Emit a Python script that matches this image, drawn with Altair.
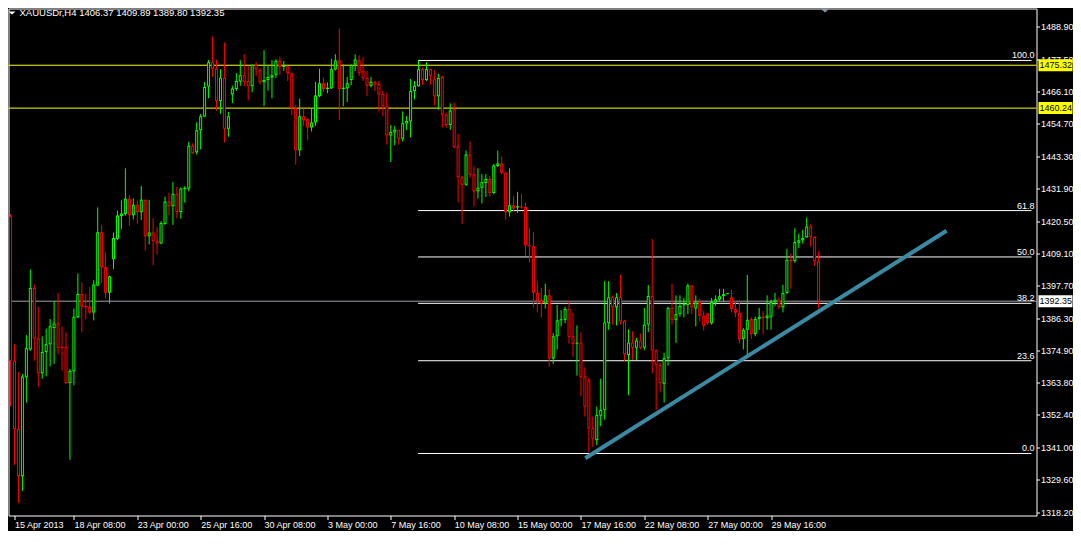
import json
import altair as alt
import pandas as pd

# ---- OHLC data (H4 bars) ----
opens = [1422.1, 1371.4, 1347.4, 1330.8, 1365.6, 1375.4, 1397.0, 1379.2, 1367.0, 1374.5,
         1377.2, 1382.9, 1384.5, 1376.2, 1376.2, 1363.6, 1367.7, 1386.7, 1394.9, 1390.7,
         1390.4, 1388.4, 1397.9, 1416.6, 1404.4, 1395.3, 1407.1, 1414.3, 1422.3, 1423.0,
         1428.4, 1422.6, 1426.3, 1423.6, 1428.0, 1415.2, 1416.5, 1413.4, 1412.6, 1419.5,
         1427.4, 1425.7, 1430.1, 1423.7, 1431.7, 1432.0, 1447.0, 1444.7, 1452.5, 1457.3,
         1467.8, 1476.4, 1474.2, 1462.7, 1470.9, 1453.0, 1465.1, 1467.0, 1469.6, 1471.8,
         1469.8, 1467.9, 1475.5, 1473.6, 1469.3, 1470.1, 1471.0, 1472.0, 1476.9, 1474.8,
         1475.0, 1472.5, 1460.3, 1445.4, 1457.4, 1456.3, 1453.4, 1455.2, 1464.4, 1469.0,
         1467.0, 1467.2, 1473.8, 1477.0, 1467.0, 1467.2, 1470.1, 1475.6, 1477.1, 1473.2,
         1470.8, 1468.1, 1469.5, 1468.7, 1465.2, 1460.9, 1450.6, 1451.7, 1452.6, 1449.5,
         1454.8, 1455.5, 1466.3, 1467.9, 1473.9, 1470.1, 1473.9, 1470.4, 1464.4, 1471.2,
         1458.0, 1454.3, 1459.8, 1446.8, 1435.9, 1433.3, 1443.9, 1437.0, 1431.0, 1432.2,
         1433.9, 1435.3, 1430.4, 1439.9, 1440.8, 1437.6, 1423.6, 1426.1, 1425.3, 1425.6,
         1425.5, 1412.0, 1411.7, 1395.3, 1392.7, 1391.5, 1394.4, 1372.2, 1380.0, 1385.6,
         1385.8, 1389.6, 1380.0, 1377.4, 1377.7, 1365.9, 1364.5, 1347.8, 1343.5, 1352.1,
         1354.1, 1384.6, 1393.7, 1390.2, 1393.7, 1385.4, 1373.4, 1377.8, 1376.0, 1378.5,
         1376.0, 1384.1, 1394.2, 1375.1, 1369.9, 1363.3, 1372.3, 1390.0, 1385.8, 1387.8,
         1391.0, 1391.0, 1397.9, 1389.8, 1392.1, 1387.2, 1388.1, 1384.6, 1391.9, 1392.9,
         1394.2, 1394.9, 1393.7, 1389.6, 1388.3, 1379.1, 1382.3, 1386.0, 1380.8, 1386.1,
         1386.9, 1386.4, 1386.9, 1392.1, 1392.9, 1390.2, 1395.2, 1406.9, 1406.4, 1412.9,
         1413.8, 1414.8, 1418.6, 1414.9, 1406.37]
highs = [1422.9, 1377.2, 1367.4, 1366.8, 1380.4, 1403.5, 1398.2, 1390.4, 1380.0, 1382.7,
         1386.1, 1392.4, 1395.2, 1383.5, 1381.4, 1368.5, 1389.8, 1402.1, 1399.0, 1395.0,
         1397.3, 1399.7, 1425.3, 1419.1, 1409.4, 1401.3, 1416.5, 1424.2, 1427.8, 1439.1,
         1429.7, 1428.5, 1427.8, 1432.9, 1428.0, 1428.0, 1421.5, 1418.4, 1420.5, 1429.1,
         1430.5, 1434.3, 1432.5, 1432.3, 1432.8, 1448.4, 1447.9, 1455.3, 1458.2, 1469.5,
         1477.2, 1485.4, 1477.3, 1473.9, 1483.3, 1458.9, 1468.1, 1472.6, 1477.1, 1479.2,
         1475.0, 1475.5, 1476.4, 1474.3, 1480.6, 1475.0, 1477.1, 1477.4, 1478.1, 1476.8,
         1475.2, 1472.7, 1461.4, 1463.6, 1460.1, 1456.8, 1460.3, 1469.5, 1474.1, 1471.0,
         1469.3, 1477.6, 1479.2, 1488.2, 1475.6, 1471.3, 1475.6, 1479.2, 1478.8, 1478.1,
         1473.3, 1471.2, 1469.8, 1469.8, 1466.4, 1465.6, 1454.3, 1454.0, 1452.6, 1459.1,
         1457.4, 1470.5, 1469.8, 1477.0, 1474.5, 1476.4, 1474.1, 1473.5, 1472.3, 1471.6,
         1458.7, 1461.9, 1462.2, 1451.2, 1436.5, 1445.3, 1448.5, 1439.8, 1439.1, 1437.0,
         1437.0, 1436.5, 1440.6, 1445.3, 1443.2, 1437.8, 1439.1, 1429.4, 1430.8, 1430.1,
         1427.0, 1418.0, 1416.6, 1399.4, 1397.1, 1398.5, 1396.7, 1381.2, 1391.0, 1389.2,
         1390.4, 1392.7, 1388.3, 1383.8, 1381.4, 1369.1, 1365.4, 1351.8, 1355.3, 1365.1,
         1399.4, 1399.4, 1394.4, 1395.2, 1401.6, 1385.8, 1382.5, 1381.8, 1379.5, 1381.0,
         1390.0, 1398.0, 1414.2, 1375.4, 1370.8, 1374.2, 1390.4, 1398.5, 1394.4, 1394.4,
         1393.5, 1398.5, 1397.9, 1394.4, 1393.3, 1388.9, 1388.1, 1393.5, 1394.4, 1396.7,
         1396.7, 1395.2, 1396.4, 1392.4, 1392.7, 1382.9, 1401.6, 1386.7, 1386.9, 1390.0,
         1388.9, 1394.4, 1392.9, 1395.3, 1393.9, 1398.1, 1410.8, 1409.1, 1418.0, 1416.1,
         1417.5, 1421.8, 1419.4, 1415.2, 1409.89]
lows = [1355.3, 1334.8, 1321.4, 1325.6, 1356.7, 1374.9, 1371.4, 1362.2, 1365.1, 1365.9,
        1369.4, 1370.3, 1373.7, 1367.9, 1363.3, 1336.6, 1362.8, 1386.4, 1381.5, 1386.0,
        1387.9, 1385.6, 1397.7, 1398.8, 1393.3, 1391.5, 1403.6, 1413.8, 1417.7, 1422.4,
        1418.8, 1421.1, 1419.6, 1420.9, 1410.2, 1412.3, 1405.0, 1408.8, 1412.4, 1419.2,
        1422.6, 1419.2, 1421.5, 1421.3, 1427.0, 1431.0, 1444.2, 1443.9, 1445.7, 1457.2,
        1463.7, 1471.2, 1459.3, 1458.3, 1448.2, 1450.2, 1462.0, 1466.3, 1468.1, 1467.9,
        1462.9, 1465.8, 1471.6, 1468.6, 1460.9, 1466.4, 1463.7, 1470.9, 1471.9, 1473.3,
        1469.8, 1457.8, 1440.3, 1443.4, 1454.0, 1448.9, 1452.0, 1454.0, 1464.1, 1466.0,
        1465.5, 1467.0, 1473.5, 1456.0, 1460.9, 1462.4, 1468.4, 1473.3, 1471.6, 1469.8,
        1464.4, 1467.5, 1466.2, 1459.1, 1457.5, 1447.4, 1441.3, 1447.2, 1447.4, 1448.5,
        1452.6, 1449.9, 1463.3, 1467.8, 1468.4, 1469.8, 1468.5, 1461.2, 1459.7, 1453.4,
        1453.4, 1452.6, 1446.2, 1427.1, 1419.5, 1432.9, 1435.7, 1425.7, 1428.4, 1426.7,
        1429.0, 1429.2, 1429.9, 1439.6, 1437.0, 1421.1, 1422.1, 1423.8, 1423.4, 1424.9,
        1408.2, 1405.9, 1390.1, 1388.4, 1386.6, 1389.8, 1369.4, 1370.3, 1375.4, 1383.5,
        1384.6, 1377.4, 1372.8, 1366.2, 1359.0, 1351.8, 1339.2, 1341.1, 1341.7, 1348.4,
        1350.7, 1382.3, 1384.1, 1383.8, 1384.1, 1371.4, 1359.3, 1371.7, 1371.7, 1375.4,
        1375.1, 1381.5, 1367.0, 1354.1, 1360.5, 1356.7, 1369.7, 1384.1, 1377.7, 1386.9,
        1386.6, 1387.8, 1387.8, 1383.5, 1385.2, 1382.0, 1384.1, 1384.1, 1390.7, 1392.1,
        1392.1, 1394.8, 1388.4, 1386.7, 1377.4, 1375.4, 1373.1, 1379.1, 1380.0, 1382.3,
        1380.8, 1382.3, 1382.3, 1390.7, 1389.6, 1388.4, 1395.0, 1396.7, 1405.9, 1411.1,
        1412.6, 1414.6, 1411.5, 1404.8, 1389.80]
closes = [1371.4, 1347.4, 1330.8, 1365.9, 1375.8, 1397.0, 1379.2, 1367.0, 1374.5, 1377.2,
          1383.5, 1384.5, 1376.0, 1375.9, 1363.6, 1367.9, 1386.9, 1394.9, 1390.5, 1390.2,
          1388.4, 1398.2, 1416.6, 1404.2, 1395.3, 1401.1, 1414.6, 1422.5, 1423.2, 1428.4,
          1422.6, 1426.3, 1423.6, 1428.0, 1415.2, 1416.5, 1413.4, 1412.6, 1419.8, 1427.4,
          1425.7, 1430.1, 1423.7, 1432.0, 1432.2, 1447.0, 1444.4, 1452.5, 1457.4, 1467.7,
          1476.4, 1474.1, 1462.7, 1470.9, 1453.0, 1457.4, 1467.1, 1469.8, 1471.8, 1469.6,
          1467.9, 1475.5, 1473.8, 1469.3, 1470.1, 1471.2, 1471.8, 1476.9, 1474.8, 1475.0,
          1472.4, 1460.3, 1445.4, 1457.4, 1456.0, 1453.4, 1455.2, 1464.7, 1469.0, 1467.0,
          1467.4, 1473.9, 1477.0, 1467.0, 1467.4, 1469.0, 1475.4, 1477.3, 1472.7, 1470.7,
          1468.1, 1469.5, 1468.5, 1465.0, 1460.9, 1450.6, 1451.8, 1452.6, 1449.5, 1454.9,
          1455.7, 1466.3, 1468.1, 1473.9, 1470.1, 1473.9, 1471.6, 1464.4, 1470.8, 1458.0,
          1454.3, 1459.4, 1446.5, 1435.9, 1433.3, 1443.9, 1436.8, 1431.0, 1432.2, 1434.2,
          1435.3, 1430.4, 1440.1, 1440.8, 1437.4, 1423.6, 1426.1, 1424.9, 1425.7, 1425.4,
          1411.9, 1411.7, 1395.3, 1392.4, 1391.5, 1394.4, 1372.2, 1380.0, 1385.6, 1386.0,
          1389.6, 1379.8, 1377.4, 1377.7, 1365.6, 1355.3, 1347.6, 1344.0, 1352.3, 1354.1,
          1384.9, 1393.7, 1390.2, 1393.7, 1385.2, 1373.7, 1377.8, 1376.0, 1378.5, 1376.0,
          1384.1, 1394.2, 1375.1, 1369.9, 1363.6, 1372.3, 1390.0, 1385.8, 1387.8, 1390.7,
          1391.2, 1397.9, 1390.2, 1391.9, 1387.2, 1383.7, 1384.6, 1392.1, 1393.0, 1394.1,
          1394.8, 1395.1, 1389.6, 1388.3, 1378.9, 1382.3, 1385.8, 1380.8, 1386.1, 1386.9,
          1386.4, 1387.3, 1392.1, 1392.9, 1390.2, 1395.2, 1406.9, 1406.4, 1413.2, 1413.8,
          1414.6, 1418.6, 1414.9, 1406.4, 1392.35]

# ---- axis labels ----
x_tick_bars = [0, 16, 32, 48, 64, 80, 96, 112, 128, 144, 160, 176, 192]
x_tick_labels = ["15 Apr 2013", "18 Apr 08:00", "23 Apr 00:00", "25 Apr 16:00",
                 "30 Apr 08:00", "3 May 00:00", "7 May 16:00", "10 May 08:00",
                 "15 May 00:00", "17 May 16:00", "22 May 08:00", "27 May 00:00",
                 "29 May 16:00"]
y_tick_values = [1488.90, 1477.50, 1466.10, 1454.70, 1443.30, 1431.90, 1420.50, 1409.10,
                 1397.70, 1386.30, 1374.90, 1363.80, 1352.40, 1341.00, 1329.60, 1318.20]

# ---- objects on the chart ----
level_prices = [1475.32, 1460.24]
last_price = [1392.35]
fib_ratios = [100.0, 61.8, 50.0, 38.2, 23.6, 0.0]
fib_high = 1477.0
fib_low = 1338.8
fib_start_bar = 102.9
trend_bars = [145.1, 236.3]
trend_prices = [1337.1, 1417.1]
header = ["XAUUSDr,H4  1406.37 1409.89 1389.80 1392.35"]
shift_marker_bar = [205.6]

# ---- layout ----
W, H = 1028, 507
X_DOMAIN = [0.75, 257.75]
Y_DOMAIN = [1316.99, 1495.27]
FONT = "Liberation Sans"
FS = 9
UP, DOWN = "#00ff00", "#ff0000"

xscale = alt.Scale(domain=X_DOMAIN, nice=False, zero=False)
yscale = alt.Scale(domain=Y_DOMAIN, nice=False, zero=False)

label_expr = json.dumps(x_tick_labels) + "[round(datum.value / 16)]"
x_axis = alt.Axis(values=[max(b, 1) for b in x_tick_bars], labelExpr=label_expr,
                  orient="bottom", grid=False, domain=False, tickColor="#ffffff",
                  tickSize=4, labelColor="#ffffff", labelFont=FONT, labelFontSize=FS,
                  labelAlign="left", labelBaseline="top", labelPadding=1,
                  labelOverlap=False, labelFlush=False, title=None)
y_axis = alt.Axis(values=y_tick_values, format=".2f", orient="right", grid=False,
                  domain=False, tickColor="#ffffff", tickSize=3, labelColor="#ffffff",
                  labelFont=FONT, labelFontSize=FS, labelPadding=1, labelOverlap=False,
                  labelFlush=False, title=None)


def X(f):
    return alt.X(f"{f}:Q", scale=xscale, axis=x_axis)


def Y(f):
    return alt.Y(f"{f}:Q", scale=yscale, axis=y_axis)


df = pd.DataFrame({"i": list(range(len(opens))), "o": opens, "h": highs,
                   "l": lows, "c": closes})
df["dir"] = ["up" if c >= o else "down" for o, c in zip(df.o, df.c)]
top = df[["o", "c"]].max(axis=1)
bot = df[["o", "c"]].min(axis=1)
mid = (top + bot) / 2
thin = (top - bot) < 0.35
df["top"] = top.where(~thin, mid + 0.17)
df["bot"] = bot.where(~thin, mid - 0.17)

color = alt.Color("dir:N", scale=alt.Scale(domain=["up", "down"], range=[UP, DOWN]),
                  legend=None)

base = alt.Chart(df)
wicks = base.mark_rule(strokeWidth=1, clip=True).encode(
    x=X("i"), y=Y("l"), y2=alt.Y2("h"), color=color)
bodies = base.mark_bar(width=3, clip=True).encode(
    x=X("i"), y=Y("top"), y2=alt.Y2("bot"), color=color)
inner = base.transform_filter("datum.top - datum.bot > 0.75").mark_bar(
    width=1, color="#000000", yOffset=1, y2Offset=-1, clip=True).encode(
    x=X("i"), y=Y("top"), y2=alt.Y2("bot"))

fib_df = pd.DataFrame({
    "r": fib_ratios,
    "p": [fib_low + r / 100.0 * (fib_high - fib_low) for r in fib_ratios],
    "s": [fib_start_bar] * len(fib_ratios),
    "e": [X_DOMAIN[1]] * len(fib_ratios),
    "lbl": [f"{r:.1f}" for r in fib_ratios],
})
fib_lines = alt.Chart(fib_df).mark_rule(color="#ffffff", strokeWidth=1, clip=True).encode(
    x=X("s"), x2=alt.X2("e"), y=Y("p"))
fib_labels = alt.Chart(fib_df).mark_text(
    align="right", baseline="alphabetic", dy=-2, color="#ffffff", font=FONT,
    fontSize=FS).encode(x=alt.value(W - 2), y=Y("p"), text="lbl:N")

lvl_df = pd.DataFrame({"p": level_prices, "lbl": [f"{p:.2f}" for p in level_prices]})
lvl_lines = alt.Chart(lvl_df).mark_rule(color="#ffff00", strokeWidth=1).encode(y=Y("p"))
last_df = pd.DataFrame({"p": last_price, "lbl": [f"{p:.2f}" for p in last_price]})
last_line = alt.Chart(last_df).mark_rule(color="#a0a0ac", strokeWidth=1).encode(y=Y("p"))

trend_df = pd.DataFrame({"i": trend_bars, "p": trend_prices})
trend = alt.Chart(trend_df).mark_line(color="#3a8aa3", strokeWidth=4, clip=True).encode(
    x=X("i"), y=Y("p"))

TAG_X0, TAG_X1, TAG_TX = W + 2, W + 36, W + 3
lvl_tags = alt.Chart(lvl_df).mark_rect(color="#ffff00", yOffset=-6, y2Offset=6).encode(
    x=alt.value(TAG_X0), x2=alt.value(TAG_X1), y=Y("p"), y2=alt.Y2("p"))
lvl_text = alt.Chart(lvl_df).mark_text(
    align="left", baseline="middle", color="#000000", font=FONT, fontSize=FS).encode(
    x=alt.value(TAG_TX), y=Y("p"), text="lbl:N")
last_tag = alt.Chart(last_df).mark_rect(color="#ffffff", yOffset=-6, y2Offset=6).encode(
    x=alt.value(TAG_X0), x2=alt.value(TAG_X1), y=Y("p"), y2=alt.Y2("p"))
last_text = alt.Chart(last_df).mark_text(
    align="left", baseline="middle", color="#000000", font=FONT, fontSize=FS).encode(
    x=alt.value(TAG_TX), y=Y("p"), text="lbl:N")

head_df = pd.DataFrame({"t": header})
head_text = alt.Chart(head_df).mark_text(
    align="left", baseline="middle", color="#ffffff", font=FONT, fontSize=9.5).encode(
    x=alt.value(11), y=alt.value(4.5), text="t:N")
TRI = "M-1,-0.45L1,-0.45L0,0.45Z"
head_tri = alt.Chart(head_df).mark_point(
    shape=TRI, filled=True, size=49, color="#ffffff", opacity=1).encode(
    x=alt.value(3.5), y=alt.value(4.5))
shift_df = pd.DataFrame({"i": shift_marker_bar})
shift_tri = alt.Chart(shift_df).mark_point(
    shape=TRI, filled=True, size=81, color="#8898a8", opacity=1).encode(
    x=X("i"), y=alt.value(2))

chart = alt.layer(
    fib_lines, lvl_lines, last_line, wicks, bodies, inner, trend, fib_labels,
    head_tri, head_text, shift_tri, lvl_tags, lvl_text, last_tag, last_text
).properties(
    width=W, height=H,
    padding={"left": 0.5, "top": 0.5, "right": 36.5, "bottom": 15},
    autosize=alt.AutoSizeParams(type="none"),
    background="#000000",
).configure_view(stroke="#ffffff", strokeWidth=1)

chart.save("out.html", embed_options={"renderer": "svg", "actions": False})
